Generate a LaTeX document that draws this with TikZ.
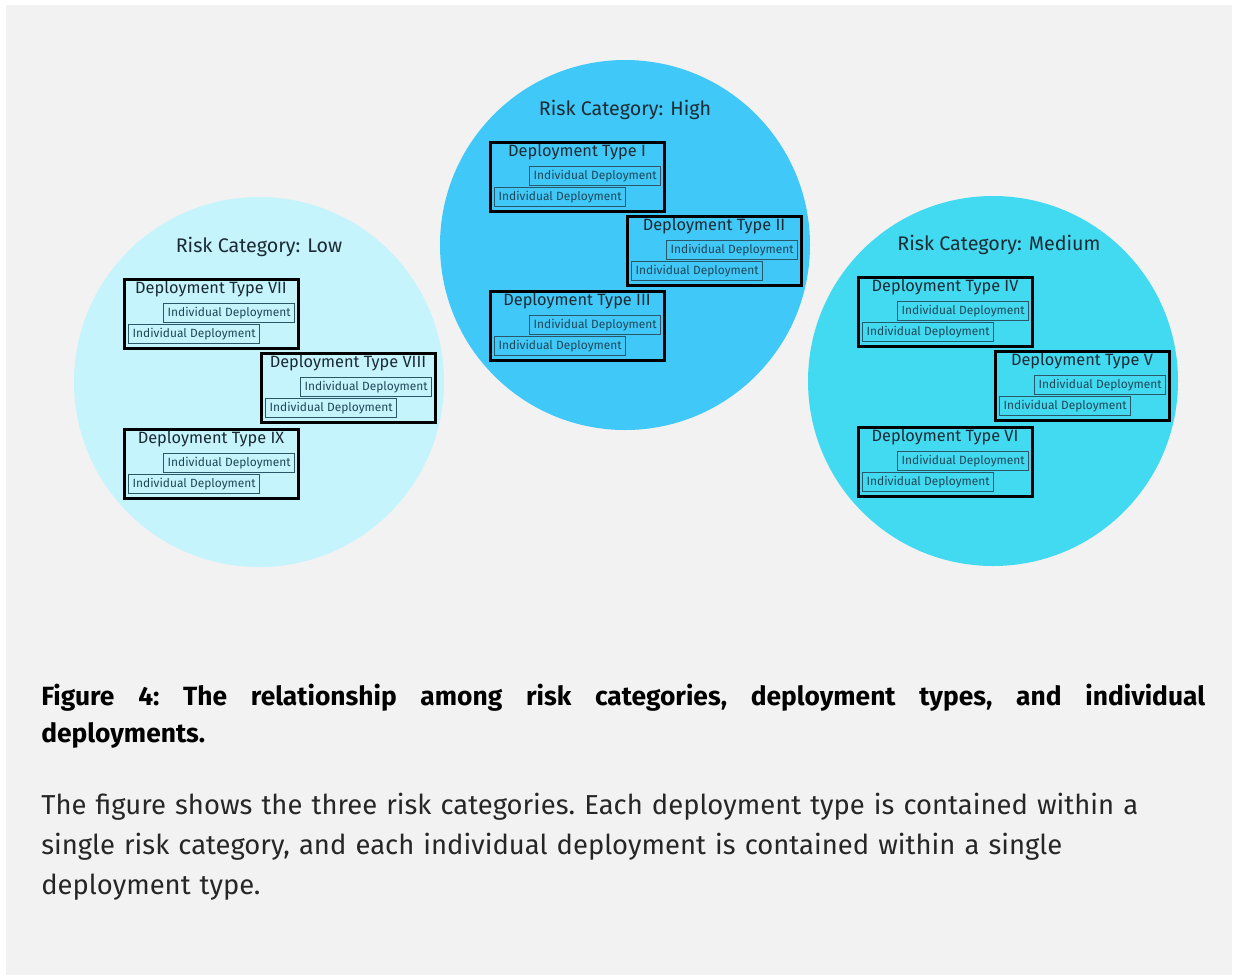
\documentclass[tikz,border=0pt]{standalone}
\usepackage{fontspec}
\setmainfont{Fira Sans}
\usetikzlibrary{calc}
\definecolor{bg}{HTML}{F2F2F2}
\definecolor{lowc}{HTML}{C5F4FD}
\definecolor{highc}{HTML}{40C8F8}
\definecolor{medc}{HTML}{42DAF0}
\definecolor{indline}{HTML}{2A5868}
\definecolor{indtext}{HTML}{1E4656}
\definecolor{titletext}{HTML}{1C2A33}
\definecolor{bodytext}{HTML}{262626}
\tikzset{
  x=0.02cm, y=-0.02cm,
  risktitle/.style={font=\fontsize{11.2}{13}\selectfont, text=titletext, inner sep=0pt},
  dtbox/.style={draw=black, line width=1.6pt, minimum width=3.48cm, minimum height=1.38cm, inner sep=0pt, anchor=north west},
  dttitle/.style={font=\fontsize{9.3}{11}\selectfont, text=titletext, inner sep=0pt},
  indbox/.style={draw=indline, line width=0.8pt, minimum width=2.62cm, minimum height=0.38cm, inner sep=0pt, anchor=north west, font=\fontsize{6.8}{8}\selectfont, text=indtext},
}
\newcommand{\dtype}[4]{%
  \node[dtbox] (#1) at (#2,#3) {};
  \node[dttitle] (#1-t) at ({#2+88},{#3+11}) {#4};
  \node[indbox] (#1-a) at ({#2+40},{#3+25}) {Individual Deployment};
  \node[indbox] (#1-b) at ({#2+5},{#3+46}) {Individual Deployment};
}
\begin{document}
\begin{tikzpicture}
\useasboundingbox (0,0) rectangle (1234,975);
\fill[white] (0,0) rectangle (1234,975);
\fill[bg] (6,5) rectangle (1232,975);
% circles
\fill[lowc] (259,382) circle[radius=185];
\fill[highc] (625,245) circle[radius=185];
\fill[medc] (993,381) circle[radius=185];
% titles
\node[risktitle] (hight) at (625,110) {Risk Category: High};
\node[risktitle] (lowt) at (259,247) {Risk Category: Low};
\node[risktitle] (medt) at (999,245) {Risk Category: Medium};
% high
\dtype{d1}{489}{141}{Deployment Type I}
\dtype{d2}{626}{215}{Deployment Type II}
\dtype{d3}{489}{290}{Deployment Type III}
% low
\dtype{d7}{123}{278}{Deployment Type VII}
\dtype{d8}{260}{352}{Deployment Type VIII}
\dtype{d9}{123}{428}{Deployment Type IX}
% medium
\dtype{d4}{857}{276}{Deployment Type IV}
\dtype{d5}{994}{350}{Deployment Type V}
\dtype{d6}{857}{426}{Deployment Type VI}
% caption
\node[anchor=north west, inner sep=0pt, text width=23.28cm, align=justify,
  font=\fontsize{15}{20.8}\selectfont\bfseries\frenchspacing] (cap) at (41,684)
  {Figure 4: The relationship among risk categories, deployment types, and individual\linebreak deployments.};
\node[anchor=north west, inner sep=0pt, text width=23.6cm, align=left, text=bodytext,
  font=\fontsize{15.6}{22.7}\selectfont\frenchspacing] (body) at (41,793)
  {The figure shows the three risk categories. Each deployment type is contained within a\\
   single risk category, and each individual deployment is contained within a single\\
   deployment type.};
\end{tikzpicture}
\end{document}
